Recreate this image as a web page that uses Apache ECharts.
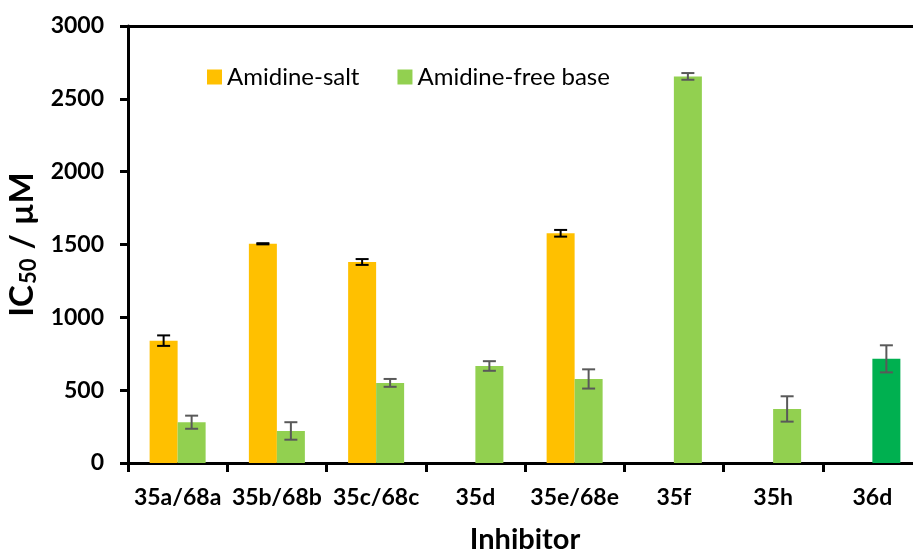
<!DOCTYPE html>
<html>
<head>
<meta charset="utf-8">
<script src="https://cdn.jsdelivr.net/npm/echarts@6/dist/echarts.min.js"></script>
<style>
  html, body { margin: 0; padding: 0; background: #fff; }
  #chart { width: 913px; height: 553px; }
</style>
</head>
<body>
<div id="chart"></div>
<script>
// Inhibitor IC50 values (µM) with standard deviations
const categories = ['35a/68a', '35b/68b', '35c/68c', '35d', '35e/68e', '35f', '35h', '36d'];
const saltValues = [840, 1505, 1380, null, 1577, null, null, null];
const saltErrors = [36, 4, 20, null, 23, null, null, null];
const freeBaseValues = [280, 220, 550, 666, 577, 2654, 371, 715];
const freeBaseErrors = [45, 60, 27, 33, 66, 23, 87, 93];
const yTicks = { min: 0, max: 3000, interval: 500 };
const seriesNames = ['Amidine-salt', 'Amidine-free base'];

const FONT = 'Lato';
const BAR_W = 28;
const SALT_COLOR = '#FFC000';
const FREE_COLOR = '#92D050';
const HIGHLIGHT_COLOR = '#00B050';

const chart = echarts.init(document.getElementById('chart'), null, { renderer: 'canvas' });

// Error bars drawn next to each bar; offset is half a bar to the left or right of the category center
function errorSeries(values, errors, side, color) {
  const data = [];
  values.forEach((v, i) => {
    if (v != null && errors[i] != null) data.push([i, v, errors[i]]);
  });
  return {
    type: 'custom',
    silent: true,
    z: 10,
    data: data,
    encode: { x: 0, y: 1 },
    renderItem: function (params, api) {
      const idx = api.value(0);
      const val = api.value(1);
      const err = api.value(2);
      const hi = api.coord([idx, val + err]);
      const lo = api.coord([idx, val - err]);
      const x = hi[0] + side * BAR_W / 2;
      const cap = 6.5;
      const style = { stroke: color, lineWidth: 2 };
      return {
        type: 'group',
        children: [
          { type: 'line', shape: { x1: x, y1: hi[1], x2: x, y2: lo[1] }, style: style },
          { type: 'line', shape: { x1: x - cap, y1: hi[1], x2: x + cap, y2: hi[1] }, style: style },
          { type: 'line', shape: { x1: x - cap, y1: lo[1], x2: x + cap, y2: lo[1] }, style: style }
        ]
      };
    }
  };
}

const freeBaseData = freeBaseValues.map((v, i) =>
  categories[i] === '36d' ? { value: v, itemStyle: { color: HIGHLIGHT_COLOR } } : v
);

const nameStyle = { fontFamily: FONT, fontSize: 33, fontWeight: 'bold', color: '#000', lineHeight: 36, verticalAlign: 'middle' };

const option = {
  backgroundColor: '#fff',
  animation: false,
  textStyle: { fontFamily: FONT },
  grid: {
    left: 128, top: 26, width: 794, height: 437,
    containLabel: false,
    outerBoundsMode: 'none'
  },
  legend: {
    data: seriesNames,
    left: 202,
    top: 60,
    icon: 'rect',
    itemWidth: 15,
    itemHeight: 15,
    itemGap: 38,
    textStyle: { fontFamily: FONT, fontSize: 24, color: '#000' }
  },
  xAxis: [{
    type: 'category',
    data: categories,
    name: 'Inhibitor',
    nameLocation: 'middle',
    nameGap: 62,
    nameTextStyle: { fontFamily: FONT, fontSize: 29, fontWeight: 'bold', color: '#000' },
    axisLine: { lineStyle: { color: '#000', width: 3 } },
    axisTick: { show: true, length: 9, lineStyle: { color: '#000', width: 3 } },
    axisLabel: { margin: 23, fontFamily: FONT, fontSize: 23, fontWeight: 'bold', color: '#000', interval: 0 }
  }, {
    type: 'category',
    data: categories,
    position: 'top',
    axisLine: { show: true, lineStyle: { color: '#000', width: 3 } },
    axisTick: { show: false },
    axisLabel: { show: false }
  }],
  yAxis: {
    type: 'value',
    min: yTicks.min,
    max: yTicks.max,
    interval: yTicks.interval,
    name: '{a|IC}{s|50}{sl|/}{a|µM}',
    nameLocation: 'middle',
    nameGap: 84,
    nameTextStyle: {
      verticalAlign: 'middle',
      rich: {
        a: nameStyle,
        sl: Object.assign({}, nameStyle, { padding: [0, 9, 0, 9] }),
        s: { fontFamily: FONT, fontSize: 22, fontWeight: 'bold', color: '#000', lineHeight: 36, verticalAlign: 'middle', padding: [12, 0, 0, 1] }
      }
    },
    splitLine: { show: false },
    axisLine: { show: true, lineStyle: { color: '#000', width: 3 } },
    axisTick: { show: true, length: 8, lineStyle: { color: '#000', width: 3 } },
    axisLabel: {
      margin: 24, fontFamily: FONT, fontSize: 23, fontWeight: 'bold', color: '#000',
      formatter: (v) => String(v)
    }
  },
  series: [
    {
      name: seriesNames[0],
      type: 'bar',
      data: saltValues,
      barWidth: BAR_W,
      barGap: '0%',
      itemStyle: { color: SALT_COLOR }
    },
    {
      name: seriesNames[1],
      type: 'bar',
      data: freeBaseData,
      barWidth: BAR_W,
      barGap: '0%',
      itemStyle: { color: FREE_COLOR }
    },
    errorSeries(saltValues, saltErrors, -1, '#000'),
    errorSeries(freeBaseValues, freeBaseErrors, 1, '#595959')
  ]
};

chart.setOption(option);
</script>
</body>
</html>
